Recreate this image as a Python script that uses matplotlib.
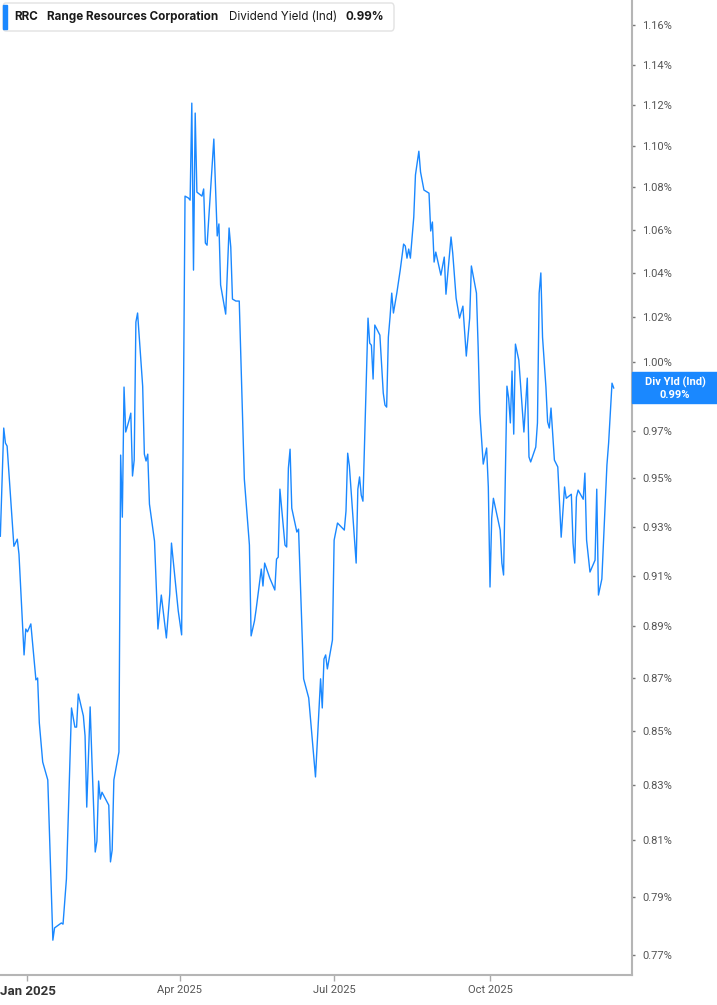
import matplotlib
matplotlib.use("Agg")
import matplotlib.pyplot as plt
import numpy as np
import pandas as pd
from matplotlib.patches import Rectangle, FancyBboxPatch
from matplotlib.ticker import NullLocator

ticker = "RRC"
company = "Range Resources Corporation"
metric = "Dividend Yield (Ind)"
short_metric = "Div Yld (Ind)"

# days counted from 2025-01-01, yield in %
start = pd.Timestamp("2025-01-01")
day_offsets = [
    -16, -14, -13, -12, -8, -6, -5, -2, -1, 0, 2, 5, 6, 7, 9, 12, 15, 16, 20, 21,
    23, 26, 28, 29, 30, 33, 34, 35, 37, 38, 40, 41, 42, 43, 44, 48, 49, 50, 51, 54,
    55, 56, 57, 58, 60, 61, 62, 63, 64, 65, 68, 69, 70, 71, 72, 75, 77, 79, 82, 84,
    85, 89, 91, 93, 95, 96, 97, 98, 99, 100, 103, 104, 105, 106, 110, 112, 113, 114, 117, 119,
    120, 121, 123, 125, 128, 131, 132, 134, 135, 138, 139, 140, 143, 146, 147, 148, 149, 152, 153, 154,
    155, 156, 159, 160, 163, 166, 170, 173, 174, 175, 176, 177, 180, 181, 183, 187, 188, 189, 190, 194,
    195, 196, 197, 198, 201, 202, 203, 204, 205, 208, 210, 211, 212, 213, 214, 215, 216, 218, 220, 222,
    223, 224, 225, 226, 228, 229, 231, 232, 234, 237, 238, 239, 240, 241, 244, 246, 247, 250, 251, 253,
    255, 257, 259, 261, 262, 265, 266, 267, 269, 271, 272, 273, 274, 275, 279, 280, 281, 283, 284, 285,
    286, 287, 288, 290, 293, 295, 296, 297, 300, 301, 302, 303, 304, 306, 307, 308, 309, 311, 313, 315,
    317, 318, 321, 322, 323, 324, 325, 328, 329, 330, 332, 335, 336, 337, 339, 342, 343, 345, 346,
]
yield_pct = [
    0.9261, 0.9713, 0.9649, 0.9636, 0.9220, 0.9249, 0.9188, 0.8789, 0.8890, 0.8879,
    0.8910, 0.8693, 0.8700, 0.8530, 0.8384, 0.8318, 0.7751, 0.7793, 0.7810, 0.7806,
    0.7963, 0.8586, 0.8514, 0.8514, 0.8639, 0.8556, 0.8481, 0.8219, 0.8590, 0.8402,
    0.8058, 0.8097, 0.8314, 0.8248, 0.8273, 0.8226, 0.8023, 0.8065, 0.8318, 0.8421,
    0.9598, 0.9339, 0.9890, 0.9696, 0.9747, 0.9777, 0.9510, 0.9577, 1.0177, 1.0218,
    0.9894, 0.9602, 0.9573, 0.9602, 0.9393, 0.9241, 0.8890, 0.9024, 0.8855, 0.9028,
    0.9233, 0.8961, 0.8867, 1.0758, 1.0749, 1.0739, 1.1208, 1.0413, 1.1159, 1.0777,
    1.0758, 1.0792, 1.0538, 1.0528, 1.1032, 1.0571, 1.0627, 1.0345, 1.0213, 1.0608,
    1.0519, 1.0281, 1.0272, 1.0272, 0.9497, 0.9225, 0.8863, 0.8922, 0.8969, 0.9128,
    0.9060, 0.9152, 0.9092, 0.9044, 0.9168, 0.9176, 0.9455, 0.9225, 0.9217, 0.9543,
    0.9623, 0.9376, 0.9278, 0.9290, 0.8697, 0.8624, 0.8329, 0.8697, 0.8586, 0.8773,
    0.8789, 0.8735, 0.8847, 0.9245, 0.9315, 0.9286, 0.9364, 0.9606, 0.9552, 0.9152,
    0.9455, 0.9506, 0.9430, 0.9405, 1.0195, 1.0083, 1.0074, 0.9925, 1.0164, 1.0119,
    0.9864, 0.9812, 0.9803, 1.0110, 1.0200, 1.0308, 1.0218, 1.0308, 1.0413, 1.0533,
    1.0524, 1.0468, 1.0510, 1.0468, 1.0659, 1.0859, 1.0973, 1.0873, 1.0787, 1.0772,
    1.0594, 1.0636, 1.0450, 1.0496, 1.0390, 1.0473, 1.0303, 1.0566, 1.0491, 1.0285,
    1.0195, 1.0249, 1.0026, 1.0195, 1.0432, 1.0308, 1.0065, 0.9777, 0.9560, 0.9628,
    0.9464, 0.9056, 0.9335, 0.9417, 0.9286, 0.9152, 0.9104, 0.9894, 0.9842, 0.9735,
    0.9960, 0.9687, 1.0079, 1.0008, 0.9696, 0.9929, 0.9590, 0.9569, 0.9632, 0.9735,
    1.0308, 1.0400, 1.0110, 0.9890, 0.9739, 0.9713, 0.9799, 0.9577, 0.9548, 0.9257,
    0.9464, 0.9417, 0.9434, 0.9233, 0.9152, 0.9422, 0.9451, 0.9413, 0.9522, 0.9245,
    0.9116, 0.9164, 0.9455, 0.9024, 0.9088, 0.9556, 0.9649, 0.9907, 0.9886,
]

y_ticks = [1.16, 1.14, 1.12, 1.10, 1.08, 1.06, 1.04, 1.02, 1.00, 0.97,
           0.95, 0.93, 0.91, 0.89, 0.87, 0.85, 0.83, 0.81, 0.79, 0.77]
x_ticks = ["2025-01-01", "2025-04-01", "2025-07-01", "2025-10-01"]
x_labels = ["Jan 2025", "Apr 2025", "Jul 2025", "Oct 2025"]

BLUE = "#1a88ff"
W, H = 717, 1005

plt.rcParams["font.family"] = ["Roboto", "DejaVu Sans"]

dates = start + pd.to_timedelta(day_offsets, unit="D")

fig = plt.figure(figsize=(W / 100, H / 100), dpi=100)
ax = fig.add_axes([0, 30 / H, 632 / W, 1 - 30 / H])

ax.plot(dates, yield_pct, color=BLUE, lw=1.0)

ax.set_yscale("log")
ax.set_ylim(0.7633, 1.1729)
ax.set_xlim(start - pd.Timedelta(days=16.2), start + pd.Timedelta(days=356.8))

ax.yaxis.tick_right()
ax.yaxis.set_minor_locator(NullLocator())
ax.set_yticks(y_ticks)
ax.set_yticklabels([f"{v:.2f}%" for v in y_ticks])
ax.set_xticks(pd.to_datetime(x_ticks))
ax.set_xticklabels(x_labels)

for s in ["top", "left"]:
    ax.spines[s].set_visible(False)
for s in ["right", "bottom"]:
    ax.spines[s].set_color("#b5b5b5")
    ax.spines[s].set_linewidth(1.5)

ax.tick_params(axis="y", which="major", length=2.5, width=1, color="#777777",
               labelcolor="#555555", labelsize=8, pad=5)
ax.tick_params(axis="x", which="major", length=4, width=1, color="#aaaaaa",
               labelcolor="#555555", labelsize=8, pad=3)
xl = ax.get_xticklabels()
xl[0].set_fontweight("bold")
xl[0].set_color("#333333")
xl[0].set_fontsize(9.5)

# last value tag on the right axis
fig.canvas.draw()
y_last = ax.transData.transform((ax.get_xlim()[1], yield_pct[-1]))[1]
box_h = 31
fig.patches.append(Rectangle((632 / W, (y_last - box_h / 2) / H), 85 / W, box_h / H,
                             transform=fig.transFigure, color=BLUE, zorder=5))
fig.text(675 / W, (y_last + 6) / H, short_metric, color="white", fontsize=8,
         fontweight="bold", ha="center", va="center", zorder=6)
fig.text(675 / W, (y_last - 7) / H, f"{yield_pct[-1]:.2f}%", color="white",
         fontsize=8, fontweight="bold", ha="center", va="center", zorder=6)

# header legend
fig.patches.append(FancyBboxPatch((3 / W, 1 - 31 / H), 391 / W, 28 / H,
                                  boxstyle="round,pad=0,rounding_size=0.004",
                                  transform=fig.transFigure, facecolor="white",
                                  edgecolor="#e2e2e2", lw=1, zorder=5))
fig.patches.append(Rectangle((3 / W, 1 - 29 / H), 4 / W, 24 / H,
                             transform=fig.transFigure, color=BLUE, zorder=6))
ty = 1 - 17 / H
fig.text(14 / W, ty, ticker, fontsize=8.4, fontweight="bold", family="Inter",
         color="#1a1a1a", va="center", zorder=7)
fig.text(47 / W, ty, company, fontsize=8.4, fontweight="bold", family="Inter",
         color="#1a1a1a", va="center", zorder=7)
fig.text(229 / W, ty, metric, fontsize=8.4, family="Inter",
         color="#1a1a1a", va="center", zorder=7)
fig.text(346 / W, ty, f"{yield_pct[-1]:.2f}%", fontsize=8.4, fontweight="bold",
         family="Inter", color="#1a1a1a", va="center", zorder=7)

fig.savefig("out.png", dpi=100)
